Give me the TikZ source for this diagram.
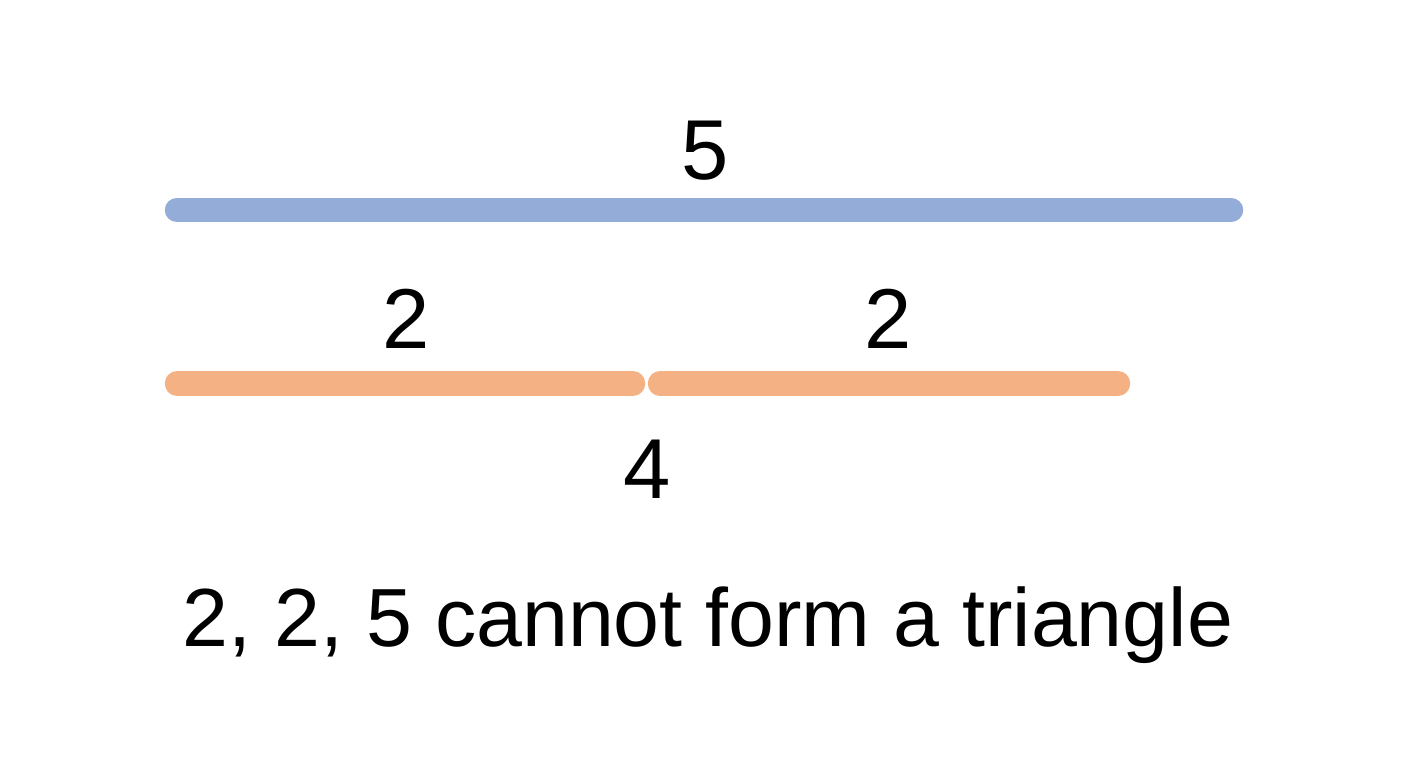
\documentclass[tikz,border=0pt]{standalone}
\usepackage{fontspec}
\setmainfont{Liberation Sans}
\definecolor{segblue}{HTML}{94ADD8}
\definecolor{segorange}{HTML}{F4B183}

\begin{document}
\begin{tikzpicture}[x=1pt,y=-1pt,
  seg/.style={line width=24.5pt,line cap=round},
  num/.style={font=\fontsize{85}{100}\selectfont,anchor=base,inner sep=0pt}]
\path[use as bounding box,fill=white] (0,0) rectangle (1408,768);
\coordinate (a1) at (177,210);
\coordinate (a2) at (1231,210);
\coordinate (b1) at (177,383.5);
\coordinate (b2) at (633,383.5);
\coordinate (c1) at (660,383.5);
\coordinate (c2) at (1118,383.5);
\path[draw,seg,segblue]   (a1)--(a2);
\path[draw,seg,segorange] (b1)--(b2);
\path[draw,seg,segorange] (c1)--(c2);
\node[num] (five)   at (705,179) {5};
\node[num] (twoa)   at (406,348) {2};
\node[num] (twob)   at (888,348) {2};
\node[num] (four)   at (647,498) {4};
\node[num,font=\fontsize{82.5}{100}\selectfont] (remark) at (708,646)
  {2, 2, 5 cannot form a triangle};
\end{tikzpicture}
\end{document}
